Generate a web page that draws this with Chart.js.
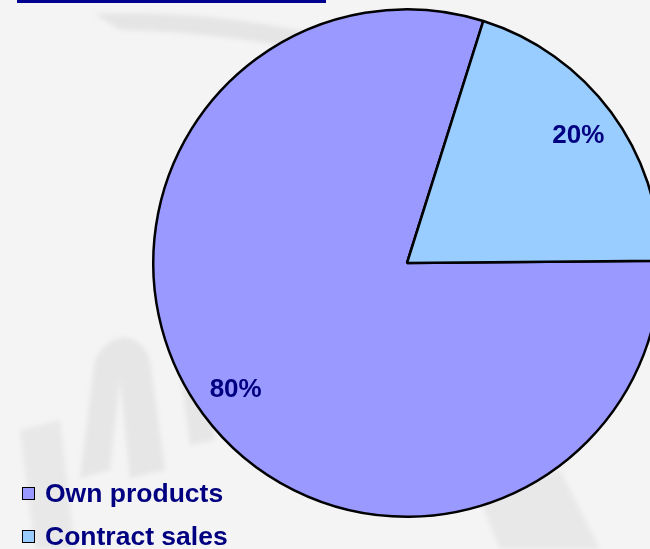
<!DOCTYPE html>
<html>
<head>
<meta charset="utf-8">
<script src="https://cdn.jsdelivr.net/npm/chart.js@4.4.1/dist/chart.umd.min.js"></script>
<style>
  html, body { margin: 0; padding: 0; }
  body {
    width: 650px; height: 549px; overflow: hidden; position: relative;
    background: #f4f4f4;
    font-family: "Liberation Sans", Arial, sans-serif;
  }
  #bgmark { position: absolute; left: 0; top: 0; filter: blur(2px); }
  #topbar { position: absolute; left: 17px; top: 0; width: 309px; height: 3px; background: #000090; }
  #wrap { position: absolute; left: 0; top: 0; width: 814px; height: 549px; }
  #legend { position: absolute; left: 22px; top: 472px; }
  .item { display: flex; align-items: center; height: 43px; color: #000080; font-weight: bold; font-size: 26.5px; }
  .box { width: 11px; height: 11px; border: 1.5px solid #000; margin-right: 10px; }
</style>
</head>
<body>
<!-- faint background logo strokes -->
<svg id="bgmark" width="650" height="549">
  <path d="M95 14 C200 10 300 25 420 60 L430 80 C320 48 220 32 120 30 Z" fill="#e5e5e5"/>
  <path d="M20 430 L60 420 L75 549 L35 549 Z" fill="#e8e8e8"/>
  <path d="M95 360 C110 330 140 330 150 360 L165 470 L130 478 L120 380 L110 470 L80 478 Z" fill="#e6e6e6"/>
  <path d="M175 330 L200 325 L215 440 L190 445 Z" fill="#e6e6e6"/>
  <path d="M480 500 L560 470 L600 549 L500 549 Z" fill="#e8e8e8"/>
</svg>
<div id="topbar"></div>
<div id="wrap"><canvas id="salesPie"></canvas></div>
<div id="legend"></div>
<script>
const categories = ['Own products', 'Contract sales'];
const shares = [80, 20];
const sliceColors = ['#9999ff', '#99ccff'];

// percentage text inside each slice
const sliceLabels = {
  id: 'sliceLabels',
  afterDatasetsDraw(chart) {
    const ctx = chart.ctx;
    const meta = chart.getDatasetMeta(0);
    ctx.save();
    ctx.font = 'bold 26px "Liberation Sans", Arial, sans-serif';
    ctx.fillStyle = '#000080';
    ctx.textAlign = 'center';
    ctx.textBaseline = 'middle';
    meta.data.forEach((arc, i) => {
      const mid = (arc.startAngle + arc.endAngle) / 2;
      const r = arc.outerRadius * 0.84;
      ctx.fillText(shares[i] + '%', arc.x + Math.cos(mid) * r, arc.y + Math.sin(mid) * r);
    });
    ctx.restore();
  }
};

const chart = new Chart(document.getElementById('salesPie'), {
  type: 'pie',
  data: {
    labels: categories,
    datasets: [{
      data: shares,
      backgroundColor: sliceColors,
      borderColor: '#000',
      borderWidth: 2.5
    }]
  },
  options: {
    responsive: true,
    maintainAspectRatio: false,
    animation: false,
    rotation: 89.5,
    layout: { padding: { top: 8, bottom: 31, left: 152, right: 152 } },
    plugins: {
      legend: { display: false },
      tooltip: { enabled: false }
    }
  },
  plugins: [sliceLabels]
});

// legend under the pie, left side
const legendEl = document.getElementById('legend');
categories.forEach((name, i) => {
  const row = document.createElement('div');
  row.className = 'item';
  const box = document.createElement('span');
  box.className = 'box';
  box.style.background = sliceColors[i];
  row.appendChild(box);
  row.appendChild(document.createTextNode(name));
  legendEl.appendChild(row);
});
</script>
</body>
</html>
